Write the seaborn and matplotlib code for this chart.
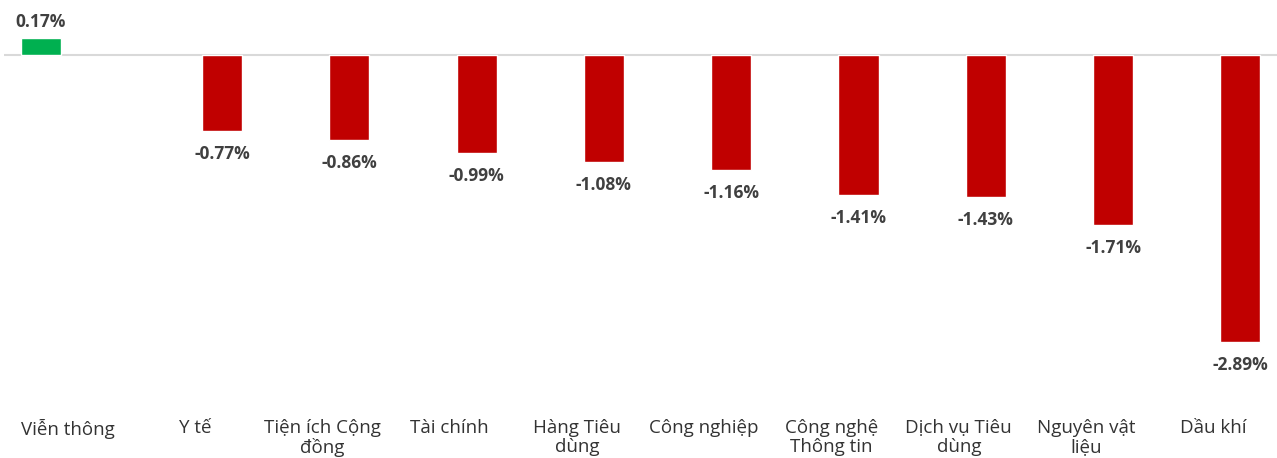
import matplotlib
matplotlib.use("Agg")
import matplotlib.pyplot as plt
import seaborn as sns
import pandas as pd
import numpy as np

categories = ["Viễn thông", "Y tế", "Tiện ích Cộng\nđồng", "Tài chính", "Hàng Tiêu\ndùng",
              "Công nghiệp", "Công nghệ\nThông tin", "Dịch vụ Tiêu\ndùng", "Nguyên vật\nliệu", "Dầu khí"]
values = [0.17, -0.77, -0.86, -0.99, -1.08, -1.16, -1.41, -1.43, -1.71, -2.89]

sns.set_theme(style="white")
plt.rcParams['font.family'] = ['Open Sans', 'DejaVu Sans']

series = ["Tăng" if v >= 0 else "Giảm" for v in values]
df = pd.DataFrame({"cat": categories, "val": values, "series": series})

fig = plt.figure(figsize=(12.77, 4.58), dpi=100)
ax = fig.add_axes([4 / 1277, (458 - 405) / 458, 1273 / 1277, 400 / 458])

sns.barplot(data=df, x="cat", y="val", hue="series", hue_order=["Tăng", "Giảm"],
            order=categories, palette={"Tăng": "#00B050", "Giảm": "#C00000"},
            width=0.85, gap=0.26, dodge=True, legend=False, ax=ax, saturation=1)

ax.axhline(0, color="#d9d9d9", lw=1.5, zorder=0)
ax.set_xlim(-0.5, len(categories) - 0.5)
ax.set_ylim(-3.52, 0.50)

for p in ax.patches:
    h = p.get_height()
    if np.isnan(h) or p.get_width() == 0:
        continue
    x = p.get_x() + p.get_width() / 2
    if h >= 0:
        ax.annotate(f"{h:.2f}%", (x, h), xytext=(0, 5), textcoords="offset points",
                    ha="center", va="bottom", fontsize=12.5, fontweight="bold", color="#404040")
    else:
        ax.annotate(f"{h:.2f}%", (x, h), xytext=(0, -10), textcoords="offset points",
                    ha="center", va="top", fontsize=12.5, fontweight="bold", color="#404040")

ax.set_xlabel("")
ax.set_ylabel("")
ax.set_yticks([])
ax.tick_params(axis="x", length=0, pad=10, labelsize=13.5)
for lab in ax.get_xticklabels():
    lab.set_family(['Open Sans', 'DejaVu Sans'])
    lab.set_color("#333333")
    lab.set_linespacing(1.1)
for s in ax.spines.values():
    s.set_visible(False)

fig.savefig("out.png", dpi=100)
